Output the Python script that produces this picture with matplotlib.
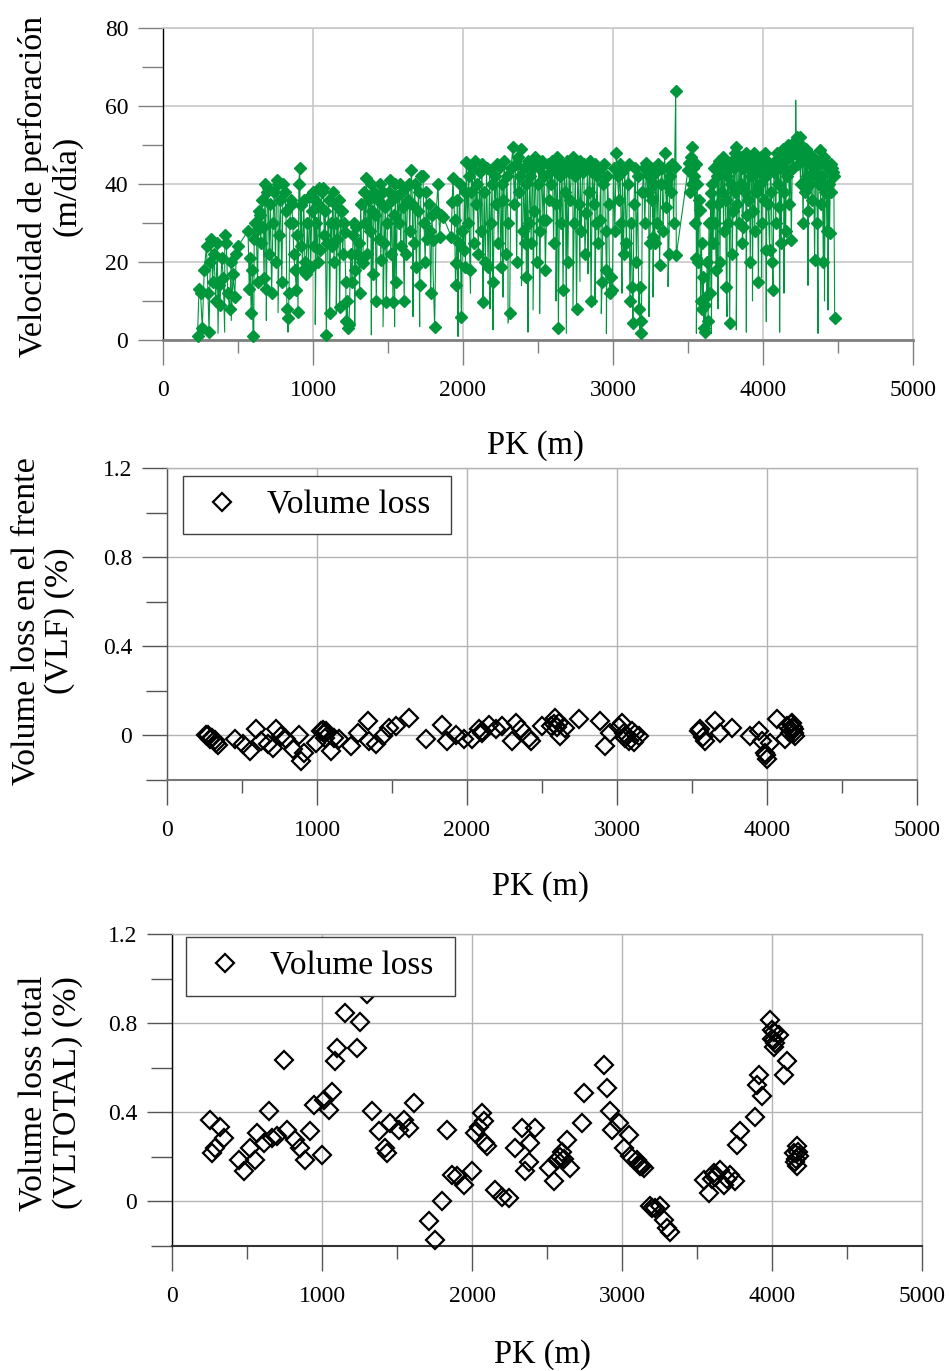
import numpy as np
import matplotlib
matplotlib.use("Agg")
import matplotlib.pyplot as plt
from matplotlib.ticker import FixedLocator, FixedFormatter

plt.rcParams['font.family'] = ['Liberation Serif', 'DejaVu Serif']
plt.rcParams['font.serif'] = ['Liberation Serif', 'DejaVu Serif']
SERIF = ['Liberation Serif', 'DejaVu Serif']

# ---------------- Velocidad de perforación (m/día) vs PK ----------------
# Days drawn with a marker
pk_avance = [
    230, 240, 250, 262, 275, 290, 300, 307, 315, 322,
    330, 340, 352, 362, 372, 380, 392, 402, 412, 422,
    432, 444, 455, 467, 478, 489, 500,
    567, 575, 580, 588, 595, 600, 608, 615, 622, 630,
    638, 644, 652, 660, 667, 674, 680, 688, 695, 700,
    708, 716, 724, 733, 742, 750, 758, 767, 775, 783,
    792, 800, 811, 820,
    826, 833, 840, 846, 852, 858, 865, 872, 880, 889,
    895, 900, 906, 911, 917, 922, 930, 938, 946, 953,
    962, 970, 978, 985, 992, 1000, 1008, 1015, 1022, 1030,
    1038, 1044, 1052, 1060, 1067, 1075, 1082, 1089, 1096, 1104,
    1111, 1118, 1125, 1133, 1140, 1148, 1155, 1162, 1170, 1178,
    1185, 1190, 1198, 1205, 1211, 1218, 1222, 1228, 1233, 1240,
    1252, 1260, 1267, 1275, 1282, 1289, 1296, 1304, 1311, 1318,
    1325, 1333, 1340, 1348, 1356, 1363, 1370, 1378, 1385, 1393,
    1400, 1408, 1415, 1422, 1430, 1437, 1444, 1452, 1460, 1467,
    1475, 1482, 1489, 1496, 1504, 1511, 1518, 1525, 1533, 1540,
    1548, 1555, 1563, 1570, 1578, 1585, 1592, 1600, 1608, 1615,
    1622, 1630, 1637, 1645, 1656, 1663, 1670, 1678, 1689, 1697,
    1705, 1712, 1720,
    1733, 1740, 1748, 1755, 1763, 1770, 1778, 1785, 1792, 1800,
    1811, 1822, 1833, 1844, 1852, 1867, 1922, 1928, 1933, 1944,
    1950, 1955, 1962, 1970, 1978, 1989, 1996, 2004, 2011, 2016,
    2022, 2030, 2038, 2046, 2054, 2062, 2070, 2078, 2086, 2094,
    2102, 2110, 2118, 2126, 2133, 2141, 2149, 2157, 2167, 2178,
    2186, 2194, 2202, 2210, 2218, 2226, 2234, 2244, 2252, 2260,
    2268, 2276, 2284, 2292, 2300, 2311, 2320, 2333, 2342, 2350,
    2358, 2366, 2374, 2382, 2389, 2397, 2404, 2411, 2418, 2422,
    2430, 2438, 2446, 2454, 2462, 2467, 2475, 2483, 2491, 2500,
    2508, 2516, 2524, 2533, 2541, 2549, 2556, 2564, 2572, 2580,
    2588, 2596, 2604, 2612, 2620, 2628, 2636, 2644, 2652, 2660,
    2667, 2675, 2683, 2691, 2699, 2707, 2715, 2723, 2733, 2741,
    2749, 2757, 2765, 2773, 2781, 2789, 2797, 2805, 2813, 2822,
    2830, 2838, 2846, 2854, 2862, 2870, 2878, 2886, 2894, 2902,
    2911, 2919, 2927, 2935, 2943, 2950, 2956, 2963, 2970, 2978,
    2989, 2996,
    3004, 3012, 3022, 3030, 3038, 3046, 3054, 3062, 3070, 3078,
    3089, 3097, 3105, 3113, 3122, 3128, 3133, 3140, 3148, 3156,
    3164, 3172, 3178, 3184, 3189, 3196, 3204, 3212, 3222, 3230,
    3238, 3246, 3254, 3262, 3267, 3272, 3278, 3286, 3294, 3302,
    3311, 3318, 3326, 3334, 3344, 3350, 3356, 3364, 3372, 3380,
    3388, 3396, 3404, 3411, 3418, 3422,
    3500, 3506, 3512, 3518, 3524, 3529, 3535, 3541, 3547, 3552,
    3556, 3562, 3567, 3572, 3578, 3584, 3590, 3596, 3600, 3605,
    3611, 3616, 3622, 3628, 3634, 3640, 3646, 3651, 3656,
    3662, 3668, 3674, 3680, 3689, 3695, 3701, 3707, 3713, 3719,
    3725, 3731, 3737, 3743, 3750, 3756, 3762, 3768, 3773, 3778,
    3784, 3790, 3795, 3800, 3806, 3811, 3816, 3822, 3828, 3834,
    3840, 3846, 3852, 3858, 3863, 3867, 3873, 3879, 3885, 3891,
    3897, 3903, 3909, 3915, 3921, 3927, 3933, 3939, 3945, 3951,
    3957, 3963, 3969, 3975, 3981, 3987, 3993, 3999, 4005, 4011,
    4017, 4023, 4029, 4035, 4044, 4050, 4056, 4062, 4067, 4073,
    4079, 4085, 4091, 4097, 4103, 4109, 4115, 4121, 4127, 4133,
    4139, 4145, 4151, 4157, 4163, 4169, 4175, 4182, 4189, 4196,
    4203, 4210, 4216, 4222, 4229, 4236, 4244, 4250, 4256, 4262,
    4267, 4273, 4279, 4285, 4291, 4297, 4303, 4309, 4315, 4321,
    4327, 4333, 4338, 4344, 4350, 4356, 4362, 4368, 4373, 4378,
    4384, 4390, 4396, 4402, 4408, 4414, 4420, 4426, 4432, 4438,
    4444, 4450, 4456, 4462, 4467, 4472, 4478,
]

velocidad = [
    1, 13, 12, 3, 18, 24, 12, 2, 20, 26,
    15, 22, 10, 25, 14, 9, 21, 16, 27, 25,
    12, 8, 20, 17, 11, 22, 24,
    28, 13, 21, 7, 18, 1, 26, 30, 28, 15,
    33, 32, 25, 36, 29, 16, 40, 13, 38, 39,
    22, 35, 12, 30, 38, 20, 41, 40, 27, 36,
    15, 40, 38, 33,
    8, 5.6, 12, 30, 36, 35, 30, 22, 18, 12.8,
    27, 7.3, 40, 44, 24, 34.6, 18, 36, 20, 17,
    30, 19, 37, 18.8, 33, 38, 24, 36, 30, 20,
    39, 23, 34, 38, 39, 27, 33, 1.3, 25, 36,
    6.8, 30, 24, 38, 20, 35, 30, 26, 36, 8.5,
    33, 33, 22, 30, 27.8, 15, 5, 10, 3, 4,
    22, 15, 27, 30, 18, 29, 22, 25, 12, 35,
    20, 19.7, 38, 30, 41.5, 22, 36, 28, 40, 33,
    17, 38, 32, 10, 36, 26, 40, 20.5, 35, 38,
    25, 34, 9.8, 30, 38, 41, 22, 36, 9.8, 32,
    40, 15, 37, 30, 40, 24, 38, 34, 10, 39,
    22, 36, 40, 28, 43.6, 35, 25, 40, 18.8, 33,
    38, 14, 42,
    42, 30, 20, 38, 26, 35, 28, 12, 32, 25.6,
    3.4, 33, 40, 26.5, 32, 31.6, 26.5, 35.5, 41.5, 30.8,
    14, 19.7, 36, 25, 40, 6, 28, 23, 38, 18.8,
    45.7, 30, 42, 18, 38, 44, 25, 46, 35, 40,
    22, 43, 28, 45, 9.8, 38, 20, 44, 18.8, 43.6,
    30, 40, 15, 42, 35, 45, 25, 44.4, 18.8, 40,
    36, 46, 22, 42, 30, 6.8, 44, 49.6, 35, 45,
    20, 47, 38, 42, 49, 28, 44, 24.8, 40, 16.2,
    46, 30, 42, 25, 44, 45.3, 33, 47, 20, 40,
    44, 28, 46, 30.8, 42, 18, 30.8, 45, 36, 43,
    40, 46, 25, 44, 35, 47, 3, 42, 30, 45,
    12.8, 44, 38, 46, 20, 43, 36, 45, 47, 30,
    42, 8, 44, 35, 46, 28, 43, 45, 22, 32.5,
    44, 38, 46, 10, 43, 35, 45, 30, 42, 25,
    30.8, 44, 15, 40, 45, 28, 18, 42, 35, 12,
    16.2, 12.8,
    44, 28, 47.9, 42, 36, 45, 30, 43, 22, 44,
    24.8, 40, 45, 10, 30, 13.7, 4.3, 35, 44, 20,
    42, 8, 13.7, 5, 1.7, 38, 44, 30, 45.3, 38,
    42, 25, 44, 36, 26.5, 40, 24.8, 43, 30, 45,
    19.2, 40, 44, 28, 47.9, 40, 34.2, 44, 22, 42,
    38, 45, 30, 44.4, 63.8, 21.8,
    43.6, 45.3, 38, 47, 40, 49.6, 44, 42, 30, 45,
    21, 40, 20, 36, 33.3, 10, 25, 8, 16.2, 3,
    9, 2, 11, 20, 5, 30, 12, 35, 37.6,
    40, 25, 44, 30, 18, 42, 35, 46, 20, 44,
    38, 47, 28, 45, 36, 13.7, 42, 30, 44, 4.3,
    40, 46, 22, 33, 44, 38, 48, 49.6, 35, 45,
    30, 47, 40, 44, 25, 29, 45, 38, 48, 32,
    44, 36, 47, 20, 42, 45, 33, 48, 28, 44,
    38, 46, 15, 43, 40, 47, 30, 45, 36, 48,
    42, 23, 46, 35, 23, 44, 38, 20, 12.8, 43,
    46, 30, 48, 40, 45, 34, 47, 25, 44, 49,
    38, 46, 28, 48, 42, 50, 35, 47, 25.6, 49,
    44, 51, 48, 48, 52, 45, 52, 40, 50, 46,
    30, 47, 38, 49, 42, 46, 33, 48, 40, 45,
    36, 47, 44, 20.5, 42, 46, 30, 45, 40, 48.7,
    35, 46, 42, 20, 47, 38, 45, 28, 44, 40,
    27.4, 45, 38, 44, 43.2, 42, 5.6,
]

# Days that only appear in the connecting line (no marker)
pk_sin_marca = [
    367, 411, 455, 605, 689, 767, 833, 1015, 1155, 1278,
    1389, 1467, 1544, 1667, 1711, 1800, 1967, 1989, 2050, 2133,
    2180, 2200, 2267, 2300, 2390, 2433, 2467, 2511, 2620, 2689,
    2733, 2780, 2833, 2880, 2922, 2956, 3060, 3178, 3240, 3267,
    3367, 3556, 3611, 3656, 3700, 3760, 3822, 3889, 3930, 3990,
    4022, 4111, 4140, 4218, 4300, 4367, 4410, 4433,
]
vel_sin_marca = [
    1.7, 2, 5, 1, 5, 7, 2, 4, 7, 3.4,
    1.3, 3.4, 3.4, 6, 3.4, 18, 0.9, 5, 12, 11,
    8, 2.6, 11, 4.3, 14, 2, 7.7, 6.8, 10, 1.7,
    7.7, 15, 17, 9, 6.8, 1.7, 12, 0.9, 6, 11,
    13.7, 1.7, 1.3, 1.7, 8, 6, 2.6, 2, 10, 16,
    4.7, 2, 12, 61.5, 14, 1.7, 10, 7.7,
]

# ---------------- Volume loss en el frente (VLF) ----------------
pk_vlf = [
    262, 270, 284, 300, 320, 328, 339, 450, 505, 550,
    594, 627, 672, 705, 727, 760, 794, 838, 882, 893,
    915, 993, 1027, 1040, 1050, 1055, 1060, 1093, 1115, 1149,
    1226, 1271, 1337, 1348, 1392, 1437, 1481, 1526, 1614, 1725,
    1836, 1869, 1925, 1980, 2035, 2080, 2100, 2102, 2146, 2191,
    2235, 2302, 2324, 2357, 2411, 2424, 2501, 2560, 2580, 2589,
    2600, 2611, 2622, 2656, 2744, 2889, 2922, 2956, 3010, 3033,
    3044, 3050, 3060, 3078, 3100, 3110, 3120, 3144, 3544, 3550,
    3570, 3589, 3656, 3689, 3767, 3889, 3944, 3967, 3989, 3995,
    4000, 4022, 4067, 4122, 4133, 4150, 4156, 4160, 4167, 4170,
    4178, 4180, 4189,
]
vlf = [
    0.004, 0.0, -0.018, -0.01, -0.02, -0.033, -0.045, -0.018, -0.04, -0.07,
    0.027, -0.025, -0.04, -0.055, 0.027, -0.003, -0.018, -0.063, 0.004, -0.115,
    -0.078, -0.033, 0.02, 0.025, 0.01, -0.01, 0.02, -0.07, -0.01, -0.018,
    -0.048, 0.012, 0.064, -0.025, -0.04, -0.003, 0.034, 0.042, 0.079, -0.018,
    0.049, -0.025, 0.004, -0.018, -0.018, 0.027, 0.01, 0.02, 0.049, 0.027,
    0.042, -0.025, 0.057, 0.027, -0.01, -0.025, 0.042, 0.042, 0.05, 0.079,
    0.04, 0.057, -0.003, 0.034, 0.072, 0.064, -0.048, 0.012, 0.04, 0.057,
    0.012, -0.01, 0.0, -0.025, 0.02, -0.03, 0.005, -0.003, 0.02, 0.03,
    -0.005, -0.025, 0.064, 0.012, 0.034, -0.003, 0.02, -0.025, -0.078, -0.09,
    -0.107, -0.033, 0.072, -0.018, 0.042, 0.03, 0.012, 0.05, 0.057, 0.04,
    0.027, 0.01, -0.003,
]

# ---------------- Volume loss total (VLTOTAL) ----------------
pk_vltotal = [
    256, 267, 289, 322, 344, 444, 478, 522, 556, 567,
    611, 644, 667, 700, 744, 767, 822, 856, 889, 922,
    944, 1000, 1011, 1044, 1067, 1089, 1100, 1150, 1233, 1250,
    1300, 1333, 1378, 1422, 1433, 1456, 1511, 1544, 1578, 1611,
    1711, 1756, 1800, 1833, 1867, 1900, 1944, 2000, 2022, 2044,
    2067, 2078, 2089, 2100, 2156, 2200, 2244, 2289, 2333, 2356,
    2378, 2389, 2420, 2511, 2544, 2567, 2589, 2600, 2610, 2633,
    2656, 2733, 2744, 2878, 2900, 2922, 2933, 2978, 3011, 3044,
    3056, 3100, 3111, 3120, 3133, 3144, 3189, 3200, 3222, 3256,
    3278, 3300, 3322, 3544, 3578, 3600, 3611, 3620, 3656, 3678,
    3700, 3722, 3756, 3767, 3789, 3889, 3900, 3911, 3933, 3989,
    4000, 4000, 4010, 4011, 4011, 4020, 4044, 4078, 4100, 4144,
    4156, 4160, 4167, 4167, 4170, 4178,
]
vltotal = [
    0.366, 0.217, 0.239, 0.336, 0.284, 0.187, 0.135, 0.239, 0.187, 0.307,
    0.262, 0.404, 0.284, 0.292, 0.636, 0.321, 0.277, 0.239, 0.187, 0.314,
    0.434, 0.209, 0.456, 0.411, 0.493, 0.628, 0.688, 0.845, 0.688, 0.807,
    0.93, 0.404, 0.314, 0.239, 0.217, 0.351, 0.321, 0.366, 0.329, 0.441,
    -0.09, -0.172, 0.0, 0.321, 0.12, 0.112, 0.075, 0.135, 0.307, 0.336,
    0.396, 0.359, 0.262, 0.247, 0.052, 0.022, 0.015, 0.239, 0.329, 0.135,
    0.179, 0.262, 0.329, 0.15, 0.09, 0.187, 0.2, 0.224, 0.19, 0.277,
    0.15, 0.351, 0.486, 0.613, 0.508, 0.404, 0.321, 0.351, 0.239, 0.299,
    0.202, 0.187, 0.17, 0.16, 0.157, 0.15, -0.022, -0.03, -0.03, -0.022,
    -0.082, -0.12, -0.135, 0.097, 0.037, 0.1, 0.127, 0.11, 0.142, 0.075,
    0.1, 0.12, 0.09, 0.254, 0.314, 0.381, 0.523, 0.568, 0.471, 0.815,
    0.77, 0.73, 0.76, 0.725, 0.695, 0.71, 0.748, 0.568, 0.628, 0.217,
    0.179, 0.19, 0.157, 0.247, 0.22, 0.202,
]

x_ticks = [0, 1000, 2000, 3000, 4000, 5000]
x_minor = [500, 1500, 2500, 3500, 4500]
vel_ticks = [0, 20, 40, 60, 80]
vel_minor = [10, 30, 50, 70]
vl_ticks = [0, 0.4, 0.8, 1.2]
vl_tick_labels = ['0', '0.4', '0.8', '1.2']
vl_minor = [-0.2, 0.2, 0.6, 1.0]
x_label = 'PK (m)'
legend_label = 'Volume loss'

W, H = 949, 1371
fig = plt.figure(figsize=(W / 100, H / 100), dpi=100)


def px_axes(left, top, right, bottom):
    return fig.add_axes([left / W, 1 - bottom / H, (right - left) / W, (bottom - top) / H])


def style_axes(ax, grid_color, grid_lw, left_color, bottom_color, bottom_lw, tick_color):
    ax.set_axisbelow(True)
    ax.grid(True, which='major', color=grid_color, lw=grid_lw)
    for side in ('top', 'right'):
        ax.spines[side].set_color(grid_color)
        ax.spines[side].set_linewidth(grid_lw)
    ax.spines['left'].set_color(left_color)
    ax.spines['left'].set_linewidth(1.0)
    ax.spines['bottom'].set_color(bottom_color)
    ax.spines['bottom'].set_linewidth(bottom_lw)
    ax.xaxis.set_major_locator(FixedLocator(x_ticks))
    ax.xaxis.set_minor_locator(FixedLocator(x_minor))
    ax.xaxis.set_major_formatter(FixedFormatter([str(t) for t in x_ticks]))
    ax.set_xlim(0, 5000)
    ax.tick_params(axis='x', which='major', direction='out', length=18, width=1.0,
                   color=tick_color, labelsize=17, pad=11)
    ax.tick_params(axis='x', which='minor', direction='out', length=9, width=1.0,
                   color=tick_color)
    ax.tick_params(axis='y', which='major', direction='out', length=18, width=1.0,
                   color=tick_color, labelsize=17, pad=7)
    ax.tick_params(axis='y', which='minor', direction='out', length=15, width=1.0,
                   color=tick_color)


def serif_ticklabels(ax):
    for lbl in ax.get_xticklabels() + ax.get_yticklabels():
        lbl.set_fontfamily(SERIF)


# Panel 1: drilling rate, full daily line with markers on the measured days
ax1 = px_axes(163, 28, 913, 340)
style_axes(ax1, '#c8c8c8', 1.2, 'black', '#808080', 2.0, '#808080')
pk_todo = np.concatenate([pk_avance, pk_sin_marca])
vel_todo = np.concatenate([velocidad, vel_sin_marca])
orden = np.argsort(pk_todo, kind='stable')
ax1.plot(pk_todo[orden], vel_todo[orden], color='#00963c', lw=0.8,
         clip_on=False, zorder=3)
ax1.plot(pk_avance, velocidad, ls='none', marker='D', ms=6.5,
         mfc='#00963c', mec='#00963c', clip_on=False, zorder=4)
ax1.set_ylim(0, 80)
ax1.yaxis.set_major_locator(FixedLocator(vel_ticks))
ax1.yaxis.set_minor_locator(FixedLocator(vel_minor))
ax1.yaxis.set_major_formatter(FixedFormatter([str(t) for t in vel_ticks]))
serif_ticklabels(ax1)


def vl_panel(ax, pk, vals, x0, top, width):
    ax.plot(pk, vals, ls='none', marker='D', ms=9.5, mfc='none', mec='black',
            mew=1.6, label=legend_label, zorder=3, clip_on=False)
    ax.set_ylim(-0.2, 1.2)
    ax.yaxis.set_major_locator(FixedLocator(vl_ticks))
    ax.yaxis.set_minor_locator(FixedLocator(vl_minor))
    ax.yaxis.set_major_formatter(FixedFormatter(vl_tick_labels))
    leg = ax.legend(loc='upper left', bbox_to_anchor=(x0, top, width, 0.0),
                    mode='expand', borderaxespad=0, frameon=True, fancybox=False,
                    framealpha=1, edgecolor='#404040',
                    borderpad=0.42, handlelength=1.5, handletextpad=0.6,
                    numpoints=1, prop={'family': SERIF, 'size': 24})
    leg.get_frame().set_linewidth(1.0)
    leg.set_zorder(5)
    serif_ticklabels(ax)


# Panel 2: face volume loss
ax2 = px_axes(167, 468, 917, 780)
style_axes(ax2, '#b4b4b4', 1.0, '#555555', '#777777', 1.5, '#555555')
vl_panel(ax2, pk_vlf, vlf, 16 / 750, (780 - 476) / 312, 268 / 750)

# Panel 3: total volume loss
ax3 = px_axes(172, 934, 922, 1246)
style_axes(ax3, '#b4b4b4', 1.0, 'black', '#333333', 1.5, '#555555')
vl_panel(ax3, pk_vltotal, vltotal, 14 / 750, (1246 - 937) / 312, 269 / 750)

# Axis titles
xlabel_fs = 23.5
ylabel_fs = 24.5
fig.text(535 / W, 1 - 446 / H, x_label, ha='center', va='center', fontsize=xlabel_fs)
fig.text(540 / W, 1 - 887 / H, x_label, ha='center', va='center', fontsize=xlabel_fs)
fig.text(542 / W, 1 - 1355 / H, x_label, ha='center', va='center', fontsize=xlabel_fs)

fig.text(50 / W, 1 - 186 / H, 'Velocidad de perforación\n(m/día)', rotation=90,
         ha='center', va='center', multialignment='center', fontsize=ylabel_fs,
         linespacing=1.1)
fig.text(43 / W, 1 - 621 / H, 'Volume loss en el frente\n(VLF) (%)', rotation=90,
         ha='center', va='center', multialignment='center', fontsize=ylabel_fs,
         linespacing=1.1)
fig.text(51 / W, 1 - 1093 / H, 'Volume loss total\n(VLTOTAL) (%)', rotation=90,
         ha='center', va='center', multialignment='center', fontsize=ylabel_fs,
         linespacing=1.1)

fig.savefig('out.png', dpi=100, facecolor='white')
